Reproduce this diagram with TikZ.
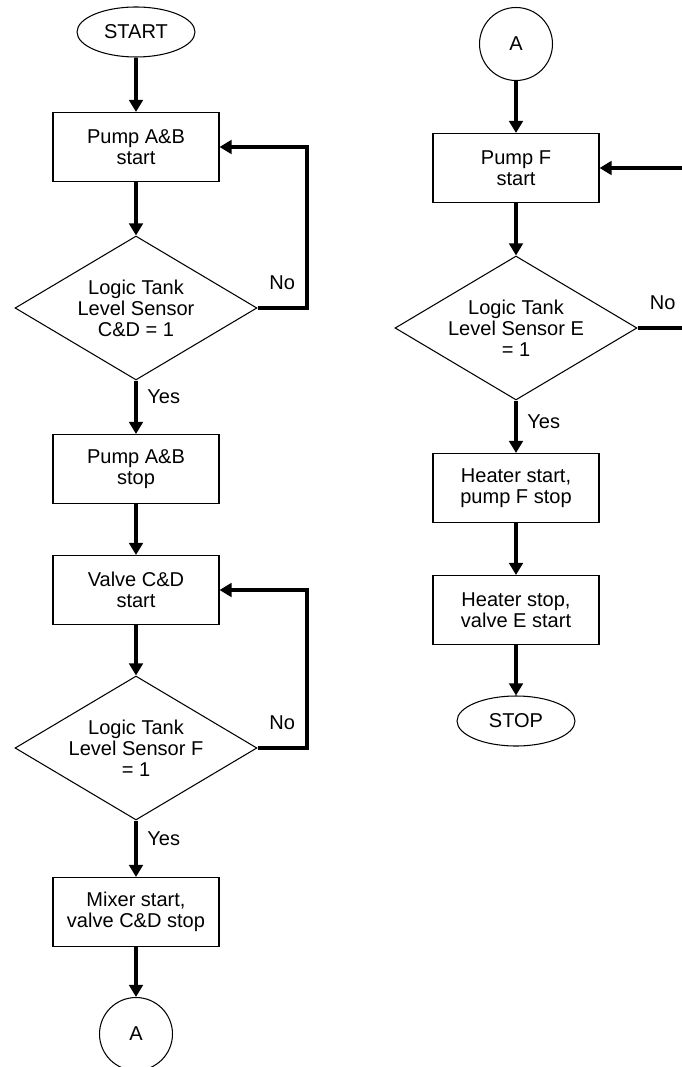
\documentclass[tikz,border=0pt]{standalone}
\usepackage{fontspec}
\setmainfont{Liberation Sans}
\usepackage{tikz}
\usetikzlibrary{arrows.meta}
\usetikzlibrary{shapes.geometric}
\usetikzlibrary{positioning, calc}

\tikzset{
  process/.style={draw, line width=0.6pt, minimum width=3.32cm, minimum height=1.38cm, align=center, inner sep=2pt},
  decision/.style={draw, diamond, line width=0.6pt, aspect=1.68, inner sep=0pt, minimum width=4.84cm, minimum height=2.88cm, align=center},
  terminal/.style={draw, ellipse, line width=0.6pt, minimum width=2.36cm, minimum height=1.0cm},
  connector/.style={draw, circle, line width=0.6pt, minimum size=1.46cm},
  flow/.style={line width=2.3pt, -{Triangle[length=0.24cm, width=0.27cm]}}
}

\begin{document}
\begin{tikzpicture}[x=0.02cm, y=-0.02cm,
    every node/.style={font=\fontsize{11.4pt}{12pt}\selectfont}]
\useasboundingbox (0,0) rectangle (681,1067);

% left column
\node[terminal] (start) at (136, 32) {START};
\node[process] (pab1) at (136, 147) {Pump A\&B\\start};
\node[decision] (dec1) at (136, 308) {Logic Tank\\Level Sensor\\C\&D = 1};
\node[process] (pab2) at (136, 469) {Pump A\&B\\stop};
\node[process] (vcd) at (136, 590) {Valve C\&D\\start};
\node[decision] (dec2) at (136, 748) {Logic Tank\\Level Sensor F\\= 1};
\node[process] (mix) at (136, 912) {Mixer start,\\valve C\&D stop};
\node[connector] (a1) at (136, 1034) {A};

% right column
\node[connector] (a2) at (516, 44) {A};
\node[process] (pf) at (516, 168) {Pump F\\start};
\node[decision] (dec3) at (516, 328) {Logic Tank\\Level Sensor E\\= 1};
\node[process] (hs1) at (516, 488) {Heater start,\\pump F stop};
\node[process] (hs2) at (516, 610) {Heater stop,\\valve E start};
\node[terminal] (stop) at (516, 721) {STOP};

\coordinate (c1) at (307, 308);
\coordinate (c2) at (307, 748);
\coordinate (c3) at (690, 328);

\foreach \a/\b in {start/pab1, pab1/dec1, pab2/vcd, vcd/dec2, mix/a1,
    a2/pf, pf/dec3, hs1/hs2, hs2/stop}
    \draw[flow] (\a) -- (\b);

\draw[flow] (dec1) -- node[right=2pt, pos=0.3] {Yes} (pab2);
\draw[flow] (dec2) -- node[right=2pt, pos=0.33] {Yes} (mix);
\draw[flow] (dec3) -- node[right=2pt, pos=0.4] {Yes} (hs1);

\draw[flow] (dec1.east) -- node[above=6pt] {No} (c1) |- (pab1.east);
\draw[flow] (dec2.east) -- node[above=6pt] {No} (c2) |- (vcd.east);
\draw[flow] (dec3.east) -- node[above=6pt, pos=0.48] {No} (c3) |- (pf.east);

\end{tikzpicture}
\end{document}
